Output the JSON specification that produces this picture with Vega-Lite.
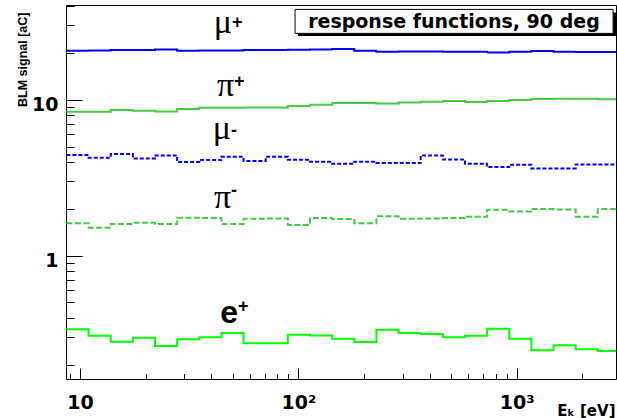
{
  "$schema": "https://vega.github.io/schema/vega-lite/v6.json",
  "width": 550,
  "height": 374,
  "autosize": "none",
  "padding": {"left": 66, "top": 5, "right": 1, "bottom": 39},
  "background": "white",
  "config": {
    "view": {"stroke": "#000000", "strokeWidth": 1},
    "axis": {"domain": false, "grid": false, "tickColor": "#000000", "tickWidth": 1, "labelColor": "#000000", "titleColor": "#000000", "labelOverlap": false, "labelBound": false, "labelFlush": false}
  },
  "datasets": {
    "hist": [
      {"series": "mu+", "E": 8.67, "signal": 20.56}, {"series": "mu+", "E": 10.95, "signal": 20.66}, {"series": "mu+", "E": 13.83, "signal": 20.76}, {"series": "mu+", "E": 17.47, "signal": 20.76}, {"series": "mu+", "E": 22.06, "signal": 20.97}, {"series": "mu+", "E": 27.86, "signal": 20.56}, {"series": "mu+", "E": 35.19, "signal": 20.66}, {"series": "mu+", "E": 44.44, "signal": 20.66}, {"series": "mu+", "E": 56.13, "signal": 20.76}, {"series": "mu+", "E": 70.89, "signal": 20.76}, {"series": "mu+", "E": 89.54, "signal": 20.86}, {"series": "mu+", "E": 113.1, "signal": 20.97}, {"series": "mu+", "E": 142.8, "signal": 21.07}, {"series": "mu+", "E": 180.4, "signal": 20.56}, {"series": "mu+", "E": 227.8, "signal": 20.26}, {"series": "mu+", "E": 287.7, "signal": 20.36}, {"series": "mu+", "E": 363.4, "signal": 20.36}, {"series": "mu+", "E": 458.9, "signal": 20.26}, {"series": "mu+", "E": 579.6, "signal": 20.26}, {"series": "mu+", "E": 732.1, "signal": 20.06}, {"series": "mu+", "E": 924.7, "signal": 20.26}, {"series": "mu+", "E": 1168, "signal": 20.46}, {"series": "mu+", "E": 1475, "signal": 20.26}, {"series": "mu+", "E": 1863, "signal": 20.16}, {"series": "mu+", "E": 2353, "signal": 20.16}, {"series": "mu+", "E": 2972, "signal": 20.16},
      {"series": "pi+", "E": 8.67, "signal": 8.356}, {"series": "pi+", "E": 10.95, "signal": 8.356}, {"series": "pi+", "E": 13.83, "signal": 8.565}, {"series": "pi+", "E": 17.47, "signal": 8.48}, {"series": "pi+", "E": 22.06, "signal": 8.398}, {"series": "pi+", "E": 27.86, "signal": 8.692}, {"series": "pi+", "E": 35.19, "signal": 8.865}, {"series": "pi+", "E": 44.44, "signal": 8.865}, {"series": "pi+", "E": 56.13, "signal": 8.91}, {"series": "pi+", "E": 70.89, "signal": 8.91}, {"series": "pi+", "E": 89.54, "signal": 9.085}, {"series": "pi+", "E": 113.1, "signal": 9.266}, {"series": "pi+", "E": 142.8, "signal": 9.497}, {"series": "pi+", "E": 180.4, "signal": 9.497}, {"series": "pi+", "E": 227.8, "signal": 9.45}, {"series": "pi+", "E": 287.7, "signal": 9.591}, {"series": "pi+", "E": 363.4, "signal": 9.685}, {"series": "pi+", "E": 458.9, "signal": 9.781}, {"series": "pi+", "E": 579.6, "signal": 9.638}, {"series": "pi+", "E": 732.1, "signal": 9.781}, {"series": "pi+", "E": 924.7, "signal": 9.926}, {"series": "pi+", "E": 1168, "signal": 10.07}, {"series": "pi+", "E": 1475, "signal": 10.12}, {"series": "pi+", "E": 1863, "signal": 10.12}, {"series": "pi+", "E": 2353, "signal": 10.03}, {"series": "pi+", "E": 2972, "signal": 10.03},
      {"series": "mu-", "E": 8.67, "signal": 4.408}, {"series": "mu-", "E": 10.95, "signal": 4.238}, {"series": "mu-", "E": 13.83, "signal": 4.474}, {"series": "mu-", "E": 17.47, "signal": 4.197}, {"series": "mu-", "E": 22.06, "signal": 4.387}, {"series": "mu-", "E": 27.86, "signal": 3.975}, {"series": "mu-", "E": 35.19, "signal": 4.094}, {"series": "mu-", "E": 44.44, "signal": 4.301}, {"series": "mu-", "E": 56.13, "signal": 4.035}, {"series": "mu-", "E": 70.89, "signal": 4.301}, {"series": "mu-", "E": 89.54, "signal": 4.114}, {"series": "mu-", "E": 113.1, "signal": 3.995}, {"series": "mu-", "E": 142.8, "signal": 3.879}, {"series": "mu-", "E": 180.4, "signal": 3.995}, {"series": "mu-", "E": 227.8, "signal": 3.917}, {"series": "mu-", "E": 287.7, "signal": 3.917}, {"series": "mu-", "E": 363.4, "signal": 4.387}, {"series": "mu-", "E": 458.9, "signal": 4.135}, {"series": "mu-", "E": 579.6, "signal": 3.879}, {"series": "mu-", "E": 732.1, "signal": 3.693}, {"series": "mu-", "E": 924.7, "signal": 3.822}, {"series": "mu-", "E": 1168, "signal": 3.621}, {"series": "mu-", "E": 1475, "signal": 3.621}, {"series": "mu-", "E": 1863, "signal": 3.841}, {"series": "mu-", "E": 2353, "signal": 3.841}, {"series": "mu-", "E": 2972, "signal": 3.841},
      {"series": "pi-", "E": 8.67, "signal": 1.608}, {"series": "pi-", "E": 10.95, "signal": 1.508}, {"series": "pi-", "E": 13.83, "signal": 1.592}, {"series": "pi-", "E": 17.47, "signal": 1.623}, {"series": "pi-", "E": 22.06, "signal": 1.592}, {"series": "pi-", "E": 27.86, "signal": 1.748}, {"series": "pi-", "E": 35.19, "signal": 1.74}, {"series": "pi-", "E": 44.44, "signal": 1.592}, {"series": "pi-", "E": 56.13, "signal": 1.723}, {"series": "pi-", "E": 70.89, "signal": 1.731}, {"series": "pi-", "E": 89.54, "signal": 1.569}, {"series": "pi-", "E": 113.1, "signal": 1.74}, {"series": "pi-", "E": 142.8, "signal": 1.714}, {"series": "pi-", "E": 180.4, "signal": 1.608}, {"series": "pi-", "E": 227.8, "signal": 1.783}, {"series": "pi-", "E": 287.7, "signal": 1.723}, {"series": "pi-", "E": 363.4, "signal": 1.731}, {"series": "pi-", "E": 458.9, "signal": 1.74}, {"series": "pi-", "E": 579.6, "signal": 1.774}, {"series": "pi-", "E": 732.1, "signal": 1.967}, {"series": "pi-", "E": 924.7, "signal": 1.919}, {"series": "pi-", "E": 1168, "signal": 1.987}, {"series": "pi-", "E": 1475, "signal": 1.977}, {"series": "pi-", "E": 1863, "signal": 1.774}, {"series": "pi-", "E": 2353, "signal": 1.987}, {"series": "pi-", "E": 2972, "signal": 1.987},
      {"series": "e+", "E": 8.67, "signal": 0.3363}, {"series": "e+", "E": 10.95, "signal": 0.3062}, {"series": "e+", "E": 13.83, "signal": 0.2803}, {"series": "e+", "E": 17.47, "signal": 0.2974}, {"series": "e+", "E": 22.06, "signal": 0.263}, {"series": "e+", "E": 27.86, "signal": 0.2902}, {"series": "e+", "E": 35.19, "signal": 0.2989}, {"series": "e+", "E": 44.44, "signal": 0.3187}, {"series": "e+", "E": 56.13, "signal": 0.2735}, {"series": "e+", "E": 70.89, "signal": 0.2735}, {"series": "e+", "E": 89.54, "signal": 0.3107}, {"series": "e+", "E": 113.1, "signal": 0.3077}, {"series": "e+", "E": 142.8, "signal": 0.293}, {"series": "e+", "E": 180.4, "signal": 0.279}, {"series": "e+", "E": 227.8, "signal": 0.3346}, {"series": "e+", "E": 287.7, "signal": 0.3187}, {"series": "e+", "E": 363.4, "signal": 0.3138}, {"series": "e+", "E": 458.9, "signal": 0.2989}, {"series": "e+", "E": 579.6, "signal": 0.3062}, {"series": "e+", "E": 732.1, "signal": 0.3396}, {"series": "e+", "E": 924.7, "signal": 0.293}, {"series": "e+", "E": 1168, "signal": 0.2466}, {"series": "e+", "E": 1475, "signal": 0.2655}, {"series": "e+", "E": 1863, "signal": 0.2503}, {"series": "e+", "E": 2353, "signal": 0.2442}, {"series": "e+", "E": 2972, "signal": 0.2442}
    ],
    "labels": [
      {"text": "μ", "E": 49.7, "signal": 26.7, "role": "greek"},
      {"text": "π", "E": 50.8, "signal": 10.53, "role": "greek"},
      {"text": "μ", "E": 49.2, "signal": 5.58, "role": "greek"},
      {"text": "π", "E": 49.2, "signal": 2.007, "role": "greek"},
      {"text": "e", "E": 52.9, "signal": 0.3676, "role": "latin"},
      {"text": "+", "E": 49.7, "signal": 28.7, "role": "sup"},
      {"text": "+", "E": 50.8, "signal": 12.03, "role": "sup"},
      {"text": "-", "E": 49.2, "signal": 5.88, "role": "sup"},
      {"text": "-", "E": 49.2, "signal": 2.399, "role": "sup"},
      {"text": "+", "E": 52.9, "signal": 0.4344, "role": "sup"},
      {"text": "response functions, 90 deg", "E": 516, "signal": 28.8, "role": "box"}
    ]
  },
  "layer": [
    {
      "data": {"name": "hist"},
      "mark": {"type": "line", "interpolate": "step-after", "clip": true},
      "encoding": {
        "x": {
          "field": "E", "type": "quantitative",
          "scale": {"type": "log", "domain": [8.63, 2850], "nice": false, "zero": false},
          "axis": {
            "values": [9, 10, 20, 30, 40, 50, 60, 70, 80, 90, 100, 200, 300, 400, 500, 600, 700, 800, 900, 1000, 2000],
            "tickSize": {"condition": {"test": "datum.value == 10 || datum.value == 100 || datum.value == 1000", "value": -11}, "value": -5.5},
            "labelExpr": "datum.value == 10 ? '10' : datum.value == 100 ? '10²' : datum.value == 1000 ? '10³' : ''",
            "labelFont": "DejaVu Sans", "labelFontWeight": "bold", "labelFontSize": 19,
            "labelPadding": 25, "labelBaseline": "top", "labelAlign": "center",
            "title": "Eₖ [eV]", "titleFont": "DejaVu Sans", "titleFontWeight": "bold", "titleFontSize": 15,
            "titleAlign": "right", "titleBaseline": "alphabetic", "titleX": 549, "titleY": 36
          }
        },
        "y": {
          "field": "signal", "type": "quantitative",
          "scale": {"type": "log", "domain": [0.1616, 40.4], "nice": false, "zero": false},
          "axis": {
            "values": [0.2, 0.3, 0.4, 0.5, 0.6, 0.7, 0.8, 0.9, 1, 2, 3, 4, 5, 6, 7, 8, 9, 10, 20, 30, 40],
            "tickSize": {"condition": {"test": "datum.value == 1 || datum.value == 10", "value": -16}, "value": -8},
            "labelExpr": "datum.value == 1 ? '1' : datum.value == 10 ? '10' : ''",
            "labelFont": "DejaVu Sans", "labelFontWeight": "bold", "labelFontSize": 19,
            "labelPadding": 24, "labelBaseline": "middle", "labelOffset": 4.5,
            "title": "BLM signal [aC]", "titleFont": "Liberation Sans", "titleFontWeight": "bold", "titleFontSize": 12.5,
            "titleAngle": 270, "titleAlign": "right", "titleBaseline": "middle", "titleX": -43.5, "titleY": 7, "titleLimit": 400
          }
        },
        "color": {"field": "series", "type": "nominal", "scale": {"domain": ["mu+", "pi+", "mu-", "pi-", "e+"], "range": ["#0000ff", "#44cc44", "#0000ff", "#44cc44", "#00ff00"]}, "legend": null},
        "strokeDash": {"field": "series", "type": "nominal", "scale": {"domain": ["mu+", "pi+", "mu-", "pi-", "e+"], "range": [[1, 0], [1, 0], [4, 2], [6, 2.5], [1, 0]]}, "legend": null},
        "strokeWidth": {"field": "series", "type": "nominal", "scale": {"domain": ["mu+", "pi+", "mu-", "pi-", "e+"], "range": [2, 2, 2, 2, 2.5]}, "legend": null}
      }
    },
    {
      "data": {"values": [{}]},
      "mark": {"type": "rect", "fill": "#000000"},
      "encoding": {
        "x": {"datum": 99.7, "type": "quantitative", "scale": {"type": "log"}},
        "x2": {"datum": 2853},
        "y": {"datum": 36.2, "type": "quantitative", "scale": {"type": "log"}},
        "y2": {"datum": 25.53}
      }
    },
    {
      "data": {"values": [{}]},
      "mark": {"type": "rect", "fill": "#ffffff", "stroke": "#000000", "strokeWidth": 1},
      "encoding": {
        "x": {"datum": 96.6, "type": "quantitative", "scale": {"type": "log"}},
        "x2": {"datum": 2764},
        "y": {"datum": 37.86, "type": "quantitative", "scale": {"type": "log"}},
        "y2": {"datum": 26.57}
      }
    },
    {
      "data": {"name": "labels"},
      "transform": [{"filter": "datum.role == 'box'"}],
      "mark": {"type": "text", "font": "DejaVu Sans", "fontWeight": "bold", "fontSize": 19, "align": "center", "baseline": "alphabetic", "color": "#000000"},
      "encoding": {
        "x": {"field": "E", "type": "quantitative", "scale": {"type": "log"}},
        "y": {"field": "signal", "type": "quantitative", "scale": {"type": "log"}},
        "text": {"field": "text"}
      }
    },
    {
      "data": {"name": "labels"},
      "transform": [{"filter": "datum.role == 'greek'"}],
      "mark": {"type": "text", "font": "Liberation Serif", "fontSize": 34, "align": "right", "baseline": "alphabetic", "color": "#000000"},
      "encoding": {
        "x": {"field": "E", "type": "quantitative", "scale": {"type": "log"}},
        "y": {"field": "signal", "type": "quantitative", "scale": {"type": "log"}},
        "text": {"field": "text"}
      }
    },
    {
      "data": {"name": "labels"},
      "transform": [{"filter": "datum.role == 'latin'"}],
      "mark": {"type": "text", "font": "Liberation Sans", "fontWeight": "bold", "fontSize": 32, "align": "right", "baseline": "alphabetic", "color": "#000000"},
      "encoding": {
        "x": {"field": "E", "type": "quantitative", "scale": {"type": "log"}},
        "y": {"field": "signal", "type": "quantitative", "scale": {"type": "log"}},
        "text": {"field": "text"}
      }
    },
    {
      "data": {"name": "labels"},
      "transform": [{"filter": "datum.role == 'sup'"}],
      "mark": {"type": "text", "font": "Liberation Sans", "fontWeight": "bold", "fontSize": 18, "align": "left", "baseline": "alphabetic", "color": "#000000"},
      "encoding": {
        "x": {"field": "E", "type": "quantitative", "scale": {"type": "log"}},
        "y": {"field": "signal", "type": "quantitative", "scale": {"type": "log"}},
        "text": {"field": "text"}
      }
    }
  ]
}
